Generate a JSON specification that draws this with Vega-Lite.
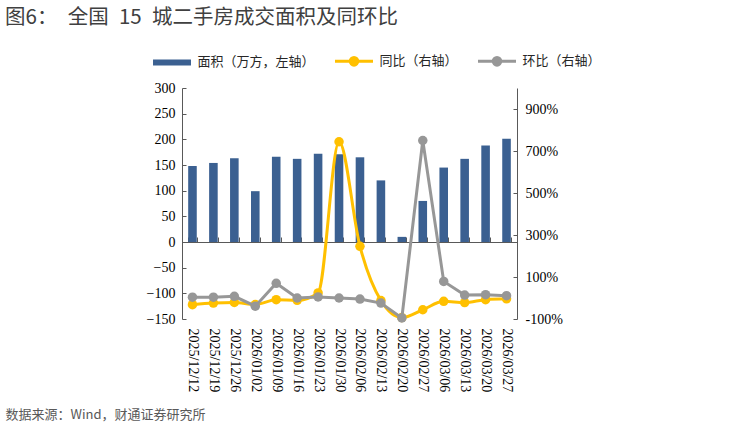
{
  "$schema": "https://vega.github.io/schema/vega-lite/v6.json",
  "width": 335,
  "height": 231,
  "autosize": {"type": "none"},
  "padding": {"left": 182, "top": 88, "right": 227, "bottom": 107},
  "background": "white",
  "title": {
    "text": "图6：\u2002全国\u200215\u2002城二手房成交面积及同环比",
    "anchor": "start",
    "frame": "group",
    "dx": -177,
    "offset": 12,
    "font": "Noto Sans CJK SC",
    "fontSize": 20.5,
    "fontWeight": "normal",
    "color": "#404040"
  },
  "config": {
    "view": {"stroke": null},
    "axis": {"grid": false},
    "font": "Noto Sans CJK SC"
  },
  "data": {
    "values": [
      {"date": "2025/12/12", "area": 148, "yoy": -32, "mom": 4},
      {"date": "2025/12/19", "area": 154, "yoy": -24, "mom": 4},
      {"date": "2025/12/26", "area": 163, "yoy": -21, "mom": 8},
      {"date": "2026/01/02", "area": 99, "yoy": -31, "mom": -39},
      {"date": "2026/01/09", "area": 166, "yoy": -8, "mom": 70},
      {"date": "2026/01/16", "area": 162, "yoy": -11, "mom": 0},
      {"date": "2026/01/23", "area": 172, "yoy": 24, "mom": 5},
      {"date": "2026/01/30", "area": 171, "yoy": 744, "mom": 0},
      {"date": "2026/02/06", "area": 165, "yoy": 246, "mom": -5},
      {"date": "2026/02/13", "area": 120, "yoy": -12, "mom": -24},
      {"date": "2026/02/20", "area": 10, "yoy": -93, "mom": -95},
      {"date": "2026/02/27", "area": 80, "yoy": -56, "mom": 750},
      {"date": "2026/03/06", "area": 145, "yoy": -16, "mom": 79},
      {"date": "2026/03/13", "area": 162, "yoy": -22, "mom": 14},
      {"date": "2026/03/20", "area": 188, "yoy": -8, "mom": 16},
      {"date": "2026/03/27", "area": 201, "yoy": -4, "mom": 11}
    ]
  },
  "encoding": {
    "x": {
      "field": "date",
      "type": "nominal",
      "sort": null,
      "scale": {"paddingInner": 0.59, "paddingOuter": 0.295},
      "axis": {
        "orient": "bottom",
        "offset": -77,
        "domainColor": "#595959",
        "domainWidth": 1,
        "tickBand": "extent",
        "tickSize": -5,
        "tickColor": "#595959",
        "labelAngle": 90,
        "labelAlign": "left",
        "labelBaseline": "middle",
        "labelPadding": 91,
        "labelFont": "Liberation Serif",
        "labelFontSize": 14,
        "labelColor": "#000000",
        "title": "数据来源：Wind，财通证券研究所",
        "titleFont": "Noto Sans CJK SC",
        "titleFontSize": 13,
        "titleFontWeight": "normal",
        "titleColor": "#595959",
        "titleAnchor": "start",
        "titleAlign": "left",
        "titleBaseline": "middle",
        "titleX": -177,
        "titleY": 172
      }
    }
  },
  "layer": [
    {
      "mark": {"type": "bar"},
      "encoding": {
        "y": {
          "field": "area",
          "type": "quantitative",
          "scale": {"domain": [-150, 300], "nice": false},
          "axis": {
            "values": [-150, -100, -50, 0, 50, 100, 150, 200, 250, 300],
            "title": null,
            "tickSize": -4,
            "labelPadding": 11,
            "domainColor": "#595959",
            "tickColor": "#595959",
            "labelFont": "Liberation Serif",
            "labelFontSize": 14,
            "labelColor": "#000000"
          }
        },
        "color": {
          "datum": "面积",
          "type": "nominal",
          "scale": {
            "domain": ["面积", "同比", "环比"],
            "range": ["#3B6091", "#FFC000", "#979797"]
          },
          "legend": {
            "orient": "none",
            "legendX": -30.5,
            "legendY": -47.5,
            "direction": "horizontal",
            "title": null,
            "padding": 0,
            "symbolSize": 1444,
            "symbolStrokeWidth": 3,
            "labelOffset": 5,
            "columnPadding": 13,
            "labelFont": "Noto Sans CJK SC",
            "labelFontSize": 13,
            "labelColor": "#262626",
            "labelExpr": "datum.label === '面积' ? '面积（万方，左轴）' : datum.label + '（右轴）'",
            "encode": {
              "symbols": {
                "update": {
                  "shape": {"signal": "datum.value === '面积' ? 'M-0.92,-0.08H0.92V0.08H-0.92Z' : 'M-1,0H1M-0.2,0A0.2,0.2,0,1,0,0.2,0A0.2,0.2,0,1,0,-0.2,0Z'"},
                  "size": {"value": 1444},
                  "strokeWidth": {"value": 3},
                  "fill": {"scale": "color", "field": "value"},
                  "stroke": {"scale": "color", "field": "value"},
                  "opacity": {"value": 1},
                  "fillOpacity": {"value": 1},
                  "strokeOpacity": {"value": 1}
                }
              }
            }
          }
        }
      }
    },
    {
      "layer": [
        {
          "mark": {"type": "line", "interpolate": "monotone", "strokeWidth": 3, "point": {"filled": true, "size": 90, "opacity": 1}},
          "encoding": {
            "y": {
              "field": "yoy",
              "type": "quantitative",
              "scale": {"domain": [-100, 1000], "nice": false},
              "axis": {
                "orient": "right",
                "values": [-100, 100, 300, 500, 700, 900],
                "labelExpr": "datum.value + '%'",
                "title": null,
                "tickSize": -4,
                "labelPadding": 12,
                "domainColor": "#595959",
                "tickColor": "#595959",
                "labelFont": "Liberation Serif",
                "labelFontSize": 14,
                "labelColor": "#000000"
              }
            },
            "color": {"datum": "同比", "type": "nominal"}
          }
        },
        {
          "mark": {"type": "line", "strokeWidth": 3, "point": {"filled": true, "size": 90, "opacity": 1}},
          "encoding": {
            "y": {"field": "mom", "type": "quantitative"},
            "color": {"datum": "环比", "type": "nominal"}
          }
        }
      ]
    }
  ],
  "resolve": {"scale": {"y": "independent"}}
}
